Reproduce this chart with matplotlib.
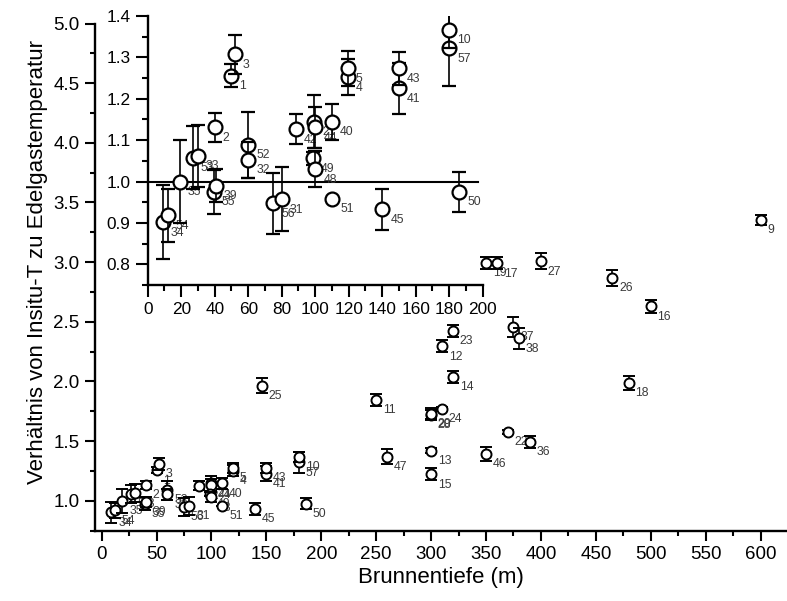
import matplotlib
matplotlib.use('Agg')
import matplotlib.pyplot as plt
from matplotlib.ticker import MultipleLocator

plt.rcParams['font.family'] = ['Liberation Sans', 'DejaVu Sans']

# ---- data (well label, depth in m, ratio, error) ----
labels = ['34', '54', '35', '53', '33', '2', '55', '39', '1', '3', '52', '32',
          '56', '31', '42', '21', '44', '49', '48', '40', '51', '4', '5', '45',
          '41', '43', '25', '57', '10', '50',
          '11', '47', '13', '15', '28', '20', '24', '12', '23', '14', '19', '46',
          '17', '22', '37', '38', '36', '27', '26', '18', '16', '9']
depth = [9, 12, 19, 27, 30, 40, 39.5, 40.5, 50, 52, 60, 60,
         75, 80, 88.5, 99.5, 100, 98.5, 100, 110, 110, 119.5, 119.5, 140,
         150, 150, 146, 180, 180, 186,
         250, 260, 300, 300, 300, 300, 310, 310, 320, 320, 350, 350,
         360, 370, 375, 380, 390, 400, 465, 480, 500, 600]
ratio = [0.902, 0.918, 1.0, 1.058, 1.062, 1.131, 0.975, 0.99, 1.256, 1.307, 1.089, 1.052,
         0.947, 0.957, 1.126, 1.145, 1.131, 1.056, 1.03, 1.144, 0.958, 1.252, 1.274, 0.933,
         1.225, 1.274, 1.964, 1.322, 1.367, 0.975,
         1.846, 1.37, 1.42, 1.222, 1.722, 1.728, 1.768, 2.294, 2.426, 2.037, 2.995, 1.392,
         2.99, 1.575, 2.457, 2.36, 1.493, 3.008, 2.869, 1.987, 2.63, 3.353]
err = [0.09, 0.065, 0.10, 0.075, 0.075, 0.035, 0.053, 0.04, 0.028, 0.047, 0.08, 0.043,
       0.074, 0.077, 0.036, 0.065, 0.05, 0.016, 0.043, 0.044, 0.0, 0.043, 0.042, 0.05,
       0.062, 0.04, 0.065, 0.09, 0.045, 0.048,
       0.05, 0.06, 0.02, 0.05, 0.04, 0.05, 0.02, 0.05, 0.05, 0.05, 0.05, 0.06,
       0.05, 0.02, 0.085, 0.087, 0.05, 0.064, 0.067, 0.056, 0.053, 0.045]

main_xticks = list(range(0, 601, 50))
main_yticks = [1.0, 1.5, 2.0, 2.5, 3.0, 3.5, 4.0, 4.5, 5.0]
inset_xticks = list(range(0, 201, 20))
inset_yticks = [0.8, 0.9, 1.0, 1.1, 1.2, 1.3, 1.4]
ref_ratio = 1.0

W, H = 787, 601
fig = plt.figure(figsize=(W / 100, H / 100), dpi=100)

label_color = '#3a3a3a'


def style_axes(a, fs, major_len, minor_len):
    for s in ('top', 'right'):
        a.spines[s].set_visible(False)
    for s in ('left', 'bottom'):
        a.spines[s].set_linewidth(1.7)
    a.tick_params(which='major', direction='out', length=major_len, width=1.5,
                  labelsize=fs, pad=4, colors='black')
    a.tick_params(which='minor', direction='out', length=minor_len, width=1.5)


# ---- main axes ----
ax = fig.add_axes([95 / W, (H - 530.5) / H, 692 / W, (530.5 - 23.5) / H])
ax.set_xlim(-6, 624)
ax.set_ylim(0.75, 5.0)
ax.set_xticks(main_xticks)
ax.set_yticks(main_yticks)
ax.set_yticklabels([f'{v:.1f}' for v in main_yticks])
ax.xaxis.set_minor_locator(MultipleLocator(25))
ax.yaxis.set_minor_locator(MultipleLocator(0.25))
style_axes(ax, 13.5, 7, 3.6)

for i, (lab, d, r, e) in enumerate(zip(labels, depth, ratio, err)):
    z = 2 + 0.2 * i
    ax.errorbar([d], [r], yerr=[e], fmt='o', ms=7.2, mfc='white', mec='black', mew=1.4,
                ecolor='black', elinewidth=1.2, capsize=4.4, capthick=1.5, zorder=z)
    ax.annotate(lab, (d, r), xytext=(4.8, -7.5), textcoords='offset points',
                fontsize=8.8, color=label_color, ha='left', va='center', zorder=1.5)

# ---- inset axes ----
axi = fig.add_axes([147.7 / W, (H - 285) / H, 335 / W, (285 - 16) / H])
axi.patch.set_alpha(0)
axi.set_xlim(0, 200)
axi.set_ylim(0.75, 1.4)
axi.set_xticks(inset_xticks)
axi.set_yticks(inset_yticks)
axi.set_yticklabels([f'{v:.1f}' for v in inset_yticks])
axi.xaxis.set_minor_locator(MultipleLocator(10))
axi.yaxis.set_minor_locator(MultipleLocator(0.05))
style_axes(axi, 12.4, 8.4, 4.5)
axi.axhline(ref_ratio, xmin=0, xmax=0.985, color='black', lw=1.5, zorder=1)

for i, (lab, d, r, e) in enumerate(zip(labels, depth, ratio, err)):
    if d > 200 or r > 1.4:
        continue
    z = 2 + 0.2 * i
    axi.errorbar([d], [r], yerr=[e], fmt='o', ms=10, mfc='white', mec='black', mew=1.6,
                 ecolor='black', elinewidth=1.2, capsize=4.8, capthick=1.5, zorder=z)
    axi.annotate(lab, (d, r), xytext=(5.8, -7.5), textcoords='offset points',
                 fontsize=8.8, color=label_color, ha='left', va='center', zorder=1.5)

fig.text(441 / W, 1 - 578 / H, 'Brunnentiefe (m)', ha='center', va='center', fontsize=16)
fig.text(38 / W, 1 - 262 / H, 'Verhältnis von Insitu-T zu Edelgastemperatur',
         ha='center', va='center', rotation=90, fontsize=16)

fig.savefig('out.png', dpi=100)
